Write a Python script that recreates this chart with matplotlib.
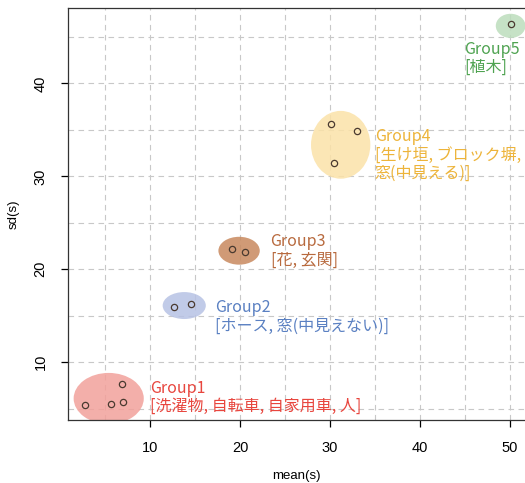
import matplotlib.pyplot as plt
from matplotlib.patches import Ellipse
from matplotlib.ticker import MultipleLocator

plt.rcParams['font.family'] = ['Noto Sans CJK JP', 'DejaVu Sans']

# データ
groups = ['Group1', 'Group2', 'Group3', 'Group4', 'Group5']
items = ['[洗濯物, 自転車, 自家用車, 人]', '[ホース, 窓(中見えない)]', '[花, 玄関]',
         '[生け垣, ブロック塀,\n窓(中見える)]', '[植木]']
mean_x = [[2.8, 5.7, 7.0, 6.9], [12.7, 14.5], [19.1, 20.6], [30.1, 33.0, 30.5], [50.1]]
sd_y = [[5.4, 5.5, 5.7, 7.7], [15.9, 16.3], [22.2, 21.9], [35.6, 34.9, 31.4], [46.4]]

# 楕円 (中心, 幅, 高さ)
ell_cx = [5.4, 13.8, 19.9, 31.2, 50.1]
ell_cy = [6.1, 16.1, 22.0, 33.4, 46.2]
ell_w = [7.8, 4.8, 4.6, 6.6, 3.3]
ell_h = [5.5, 2.9, 3.0, 7.3, 2.6]

# ラベル位置
lab_x = [10.0, 17.2, 23.4, 35.0, 44.9]
lab_y = [8.1, 16.8, 23.9, 35.2, 44.6]

txt_col = ['#E8463E', '#5A80C2', '#B86A3E', '#EDB43A', '#4FA351']
ell_col = ['#F2A19B', '#B7C2E4', '#C8895E', '#FBE2A8', '#BCDDBC']

fig = plt.figure(figsize=(5.25, 4.83), dpi=100)
ax = fig.add_axes([0.130, 0.130, 0.870, 0.853])

for i in range(len(groups)):
    ax.add_patch(Ellipse((ell_cx[i], ell_cy[i]), ell_w[i], ell_h[i],
                         facecolor=ell_col[i], edgecolor='none', alpha=0.85, zorder=1))
    ax.plot(mean_x[i], sd_y[i], 'o', mfc='none', mec='#4a3a30', ms=4.5, mew=0.9, zorder=3)
    ax.text(lab_x[i], lab_y[i], groups[i] + '\n' + items[i], color=txt_col[i],
            fontsize=11.5, va='top', ha='left', linespacing=1.1, zorder=4)

ax.set_xlim(0.9, 51.7)
ax.set_ylim(3.76, 48.1)
ax.xaxis.set_minor_locator(MultipleLocator(5))
ax.yaxis.set_minor_locator(MultipleLocator(5))
ax.set_xticks([10, 20, 30, 40, 50])
ax.set_yticks([10, 20, 30, 40])
ax.grid(which='both', color='#c8c8c8', linestyle=(0, (5, 4)), linewidth=0.8, zorder=0)
ax.set_axisbelow(True)
ax.tick_params(which='minor', length=0)
ax.tick_params(which='major', length=5, width=0.9, labelsize=10.5, direction='out', pad=10)
for lab in ax.get_xticklabels() + ax.get_yticklabels():
    lab.set_family(['Liberation Sans'])
for lab in ax.get_yticklabels():
    lab.set_rotation(90)
    lab.set_va('center')
ax.spines['right'].set_visible(False)
for s in ['left', 'top', 'bottom']:
    ax.spines[s].set_linewidth(0.9)
    ax.spines[s].set_color('#333333')

ax.set_xlabel('mean(s)', fontsize=9.5, labelpad=11, family=['Liberation Sans'])
ax.set_ylabel('sd(s)', fontsize=9.5, labelpad=10, family=['Liberation Sans'])

plt.savefig('out.png', dpi=100)
